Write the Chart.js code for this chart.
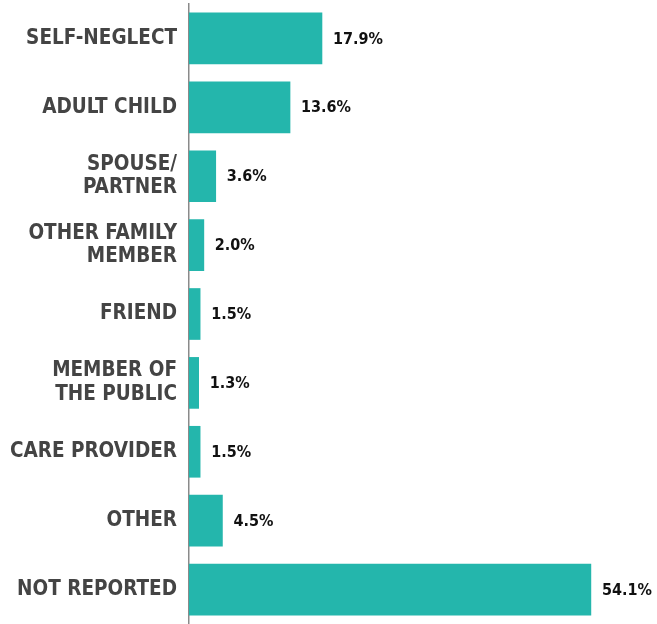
<!DOCTYPE html>
<html>
<head>
<meta charset="utf-8">
<script src="https://cdn.jsdelivr.net/npm/chart.js@4/dist/chart.umd.min.js"></script>
<style>
html,body{margin:0;padding:0;background:#fff;}
#wrap{width:657px;height:624px;position:relative;}
</style>
</head>
<body>
<div id="wrap"><canvas id="c" width="657" height="624"></canvas></div>
<script>
const categories = [
  "SELF-NEGLECT",
  "ADULT CHILD",
  ["SPOUSE/", "PARTNER"],
  ["OTHER FAMILY", "MEMBER"],
  "FRIEND",
  ["MEMBER OF", "THE PUBLIC"],
  "CARE PROVIDER",
  "OTHER",
  "NOT REPORTED"
];
const percentValues = [17.9, 13.6, 3.6, 2.0, 1.5, 1.3, 1.5, 4.5, 54.1];
const valueLabels = ["17.9%", "13.6%", "3.6%", "2.0%", "1.5%", "1.3%", "1.5%", "4.5%", "54.1%"];

const FONT = "'DejaVu Sans Condensed', 'Liberation Sans Narrow', 'DejaVu Sans', sans-serif";

const valueLabelPlugin = {
  id: 'valueLabels',
  afterDatasetsDraw(chart) {
    const ctx = chart.ctx;
    const meta = chart.getDatasetMeta(0);
    ctx.save();
    ctx.font = "bold 16px " + FONT;
    ctx.fillStyle = "#111111";
    ctx.textAlign = "left";
    ctx.textBaseline = "middle";
    meta.data.forEach((bar, i) => {
      ctx.fillText(valueLabels[i], bar.x + 11, bar.y + 1);
    });
    ctx.restore();
  }
};

new Chart(document.getElementById('c'), {
  type: 'bar',
  data: {
    labels: categories,
    datasets: [{
      data: percentValues,
      backgroundColor: '#24B6AC',
      borderWidth: 0,
      barThickness: 51
    }]
  },
  options: {
    indexAxis: 'y',
    responsive: false,
    animation: false,
    layout: { padding: { top: 4, bottom: 0, left: 0, right: 0 } },
    plugins: { legend: { display: false }, tooltip: { enabled: false } },
    scales: {
      x: {
        display: false,
        min: 0,
        max: 63
      },
      y: {
        offset: true,
        grid: { display: false, drawTicks: false },
        border: { display: true, color: '#8a8a8a', width: 1.5 },
        ticks: {
          color: '#444444',
          padding: 12,
          font: { family: FONT, size: 20.5, weight: 'bold', lineHeight: 1.15 }
        },
        afterFit(scale) {
          scale.width = 189;
          scale.paddingTop = 0;
          scale.paddingBottom = 0;
        }
      }
    }
  },
  plugins: [valueLabelPlugin]
});
</script>
</body>
</html>
